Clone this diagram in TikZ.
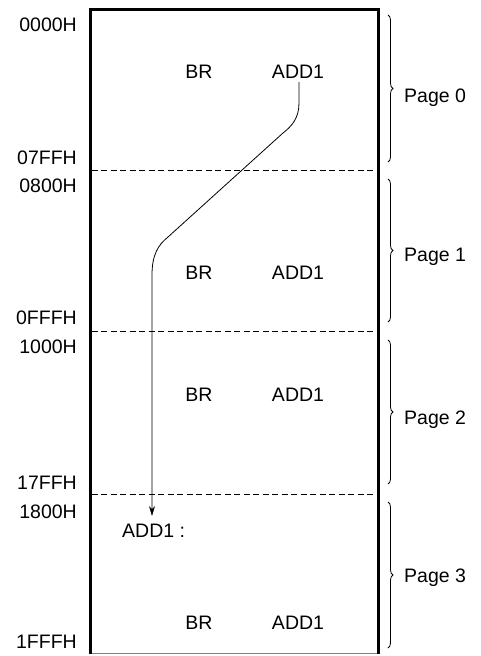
\documentclass[tikz,border=0pt]{standalone}
\usepackage{fontspec}
\setmainfont{Liberation Sans}
\usetikzlibrary{decorations.pathreplacing,arrows.meta}
\begin{document}
\begin{tikzpicture}[x=1pt,y=-1pt,
  lbl/.style={font=\fontsize{19.5}{22}\selectfont, inner sep=0pt, anchor=base},
  addr/.style={lbl, anchor=base east},
  pg/.style={lbl, anchor=base west},
  sep/.style={line width=0.8pt, dash pattern=on 6pt off 3.5pt},
  brc/.style={decorate, decoration={brace, amplitude=5pt}, line width=0.8pt}]
\useasboundingbox (0,0) rectangle (480,656);
% memory box
\draw[line width=0.7pt, gray] (90,653.5) -- (378,653.5);
\draw[line width=3pt] (90,654) -- (90,9.5) -- (378,9.5) -- (378,654);
% page separators
\draw[sep] (91.5,170.5) -- (376.5,170.5);
\draw[sep] (91.5,331.5) -- (376.5,331.5);
\draw[sep] (91.5,494.5) -- (376.5,494.5);
% address labels
\node[addr] (a0) at (77,31) {0000H};
\node[addr] (a1) at (77,164) {07FFH};
\node[addr] (a2) at (77,192) {0800H};
\node[addr] (a3) at (77,324) {0FFFH};
\node[addr] (a4) at (77,353) {1000H};
\node[addr] (a5) at (77,489) {17FFH};
\node[addr] (a6) at (77,518) {1800H};
\node[addr] (a7) at (77,648) {1FFFH};
% instructions
\node[lbl] (br0) at (199,78) {BR};
\node[lbl] (ad0) at (298,78) {ADD1};
\node[lbl] (br1) at (199,279) {BR};
\node[lbl] (ad1) at (298,279) {ADD1};
\node[lbl] (br2) at (199,401) {BR};
\node[lbl] (ad2) at (298,401) {ADD1};
\node[lbl] (br3) at (199,629) {BR};
\node[lbl] (ad3) at (298,629) {ADD1};
\node[lbl, anchor=base west] (lab) at (122,537) {ADD1 :};
% jump path
\coordinate (tgt) at (152,516);
\draw[line width=0.8pt, -{Stealth[length=10pt,width=6pt]}]
  (299,82) -- (299,103) .. controls (299,118) and (292,126) .. (283,133)
  -- (168,237) .. controls (158,245) and (152,255) .. (152,275) -- (tgt);
% braces
\draw[brc] (388,15) -- (388,162);
\draw[brc] (388,179) -- (388,322);
\draw[brc] (388,340) -- (388,484);
\draw[brc] (388,502) -- (388,648);
\node[pg] (p0) at (404,102) {Page 0};
\node[pg] (p1) at (404,261) {Page 1};
\node[pg] (p2) at (404,424) {Page 2};
\node[pg] (p3) at (404,582) {Page 3};
\end{tikzpicture}
\end{document}
